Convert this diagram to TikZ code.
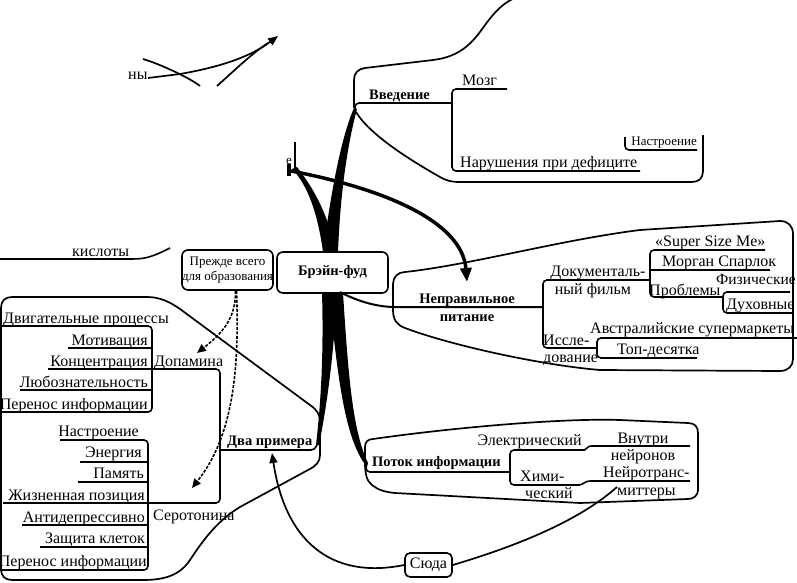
\documentclass[tikz,border=0pt]{standalone}
\usepackage{fontspec}
\setmainfont{Liberation Serif}
\usetikzlibrary{arrows.meta}
\begin{document}
\begin{tikzpicture}[x=1pt,y=-1pt,
  t/.style={inner sep=0pt,font=\fontsize{16}{18}\selectfont},
  ts/.style={inner sep=0pt,font=\fontsize{13}{15}\selectfont},
  tb/.style={inner sep=0pt,font=\bfseries\fontsize{14.5}{18}\selectfont},
  br/.style={line width=1.6pt,rounded corners=4pt},
  bd/.style={line width=1.7pt},
  rel/.style={line width=1.7pt},
  box/.style={draw,line width=1.6pt,rounded corners=6pt},
  dsh/.style={line width=1.6pt,dash pattern=on 3pt off 1.5pt,-{Triangle[length=9pt,width=8pt]}}
]
\useasboundingbox (0,0) rectangle (797,583);

% ---------- central nodes
\node[box,minimum width=111pt,minimum height=41pt,font=\bfseries\fontsize{14.5}{17}\selectfont] (bf) at (332.5,272.5) {Брэйн-фуд};
\node[box,minimum width=91pt,minimum height=40pt,align=center,inner sep=0pt,font=\fontsize{13}{15.5}\selectfont] (pv) at (227.5,270) {Прежде всего\\для образования};

% ---------- thick tapered branches
\fill (323,252) .. controls (330,200) and (340,140) .. (354,108) -- (357,109) .. controls (346,150) and (340,200) .. (338,252) -- cycle;
\fill (323,252) .. controls (318,215) and (308,185) .. (292,169) -- (297,167) .. controls (315,190) and (328,215) .. (336,252) -- cycle;
\fill (322,293) .. controls (324,360) and (320,410) .. (316,445) -- (319,445) .. controls (328,400) and (334,350) .. (337,293) -- cycle;
\fill (329,293) .. controls (338,380) and (345,440) .. (367,467) -- (368,463) .. controls (352,430) and (348,370) .. (343,293) -- cycle;

% ---------- Введение
\node[tb,anchor=base west] (vv) at (369,100) {Введение};
\node[t,anchor=base west] (mozg) at (462,86) {Мозг};
\node[t,anchor=base west] (nar) at (460,167) {Нарушения при дефиците};
\node[ts,anchor=base east] (nas1) at (697,146) {Настроение};
\draw[br] (355,109) -- (355,103) -- (452,103);
\draw[br] (507,89) -- (452,89) -- (452,171) -- (640,171);
\draw[br] (625,137) -- (625,150) -- (697,150);
\draw[bd] (354,108) -- (354,80) .. controls (354,73) and (358,69) .. (365,68) -- (433,60) .. controls (458,57) and (470,45) .. (480,32) .. controls (490,18) and (500,4) .. (515,-2);
\draw[bd] (356,112) .. controls (370,135) and (410,160) .. (440,177) .. controls (447,181) and (452,182) .. (460,182) -- (692,182) .. controls (699,182) and (703,178) .. (703,171) -- (703,135);

% ---------- "е" fragment
\node[ts,anchor=base west] (e) at (286,164) {е};
\fill (286.5,164) rectangle (290.5,176);
\draw[line width=1.2pt] (295,142) -- (295,168);
\coordinate (eout) at (291,171);

% ---------- Неправильное питание
\node[tb,align=center] (np) at (467,308) {Неправильное\\питание};
\draw[rel,line width=3.5pt,-{Triangle[length=14pt,width=11pt]}] (eout) .. controls (380,188) and (462,220) .. (467,282);
\draw[line width=2pt] (340,292) .. controls (355,300) and (375,307) .. (395,307) -- (543,307);
\node[t,anchor=base] (doc1) at (598,276) {Документаль-};
\node[t,anchor=base] (doc2) at (593,294) {ный фильм};
\node[t,anchor=base west] (ssm) at (655,246) {«Super Size Me»};
\node[t,anchor=base west] (msp) at (662,266) {Морган Спарлок};
\node[t,anchor=base west] (prob) at (649,295) {Проблемы};
\node[inner sep=0pt,font=\fontsize{15.5}{18}\selectfont,anchor=base east] (fiz) at (796,284) {Физические};
\node[t,anchor=base west] (duh) at (726,309) {Духовные};
\node[t,anchor=base west] (iss1) at (543,345) {Иссле-};
\node[t,anchor=base west] (iss2) at (543,362) {дование};
\node[t,anchor=base west] (avs) at (590,333) {Австралийские супермаркеты};
\node[t,anchor=base west] (top) at (617,354) {Топ-десятка};
\draw[br] (650,280) -- (543,280) -- (543,348) -- (597,348);
\draw[br] (765,250) -- (650,250) -- (650,297) -- (723,297);
\draw[br] (650,270) -- (770,270);
\draw[br] (790,292) -- (723,292) -- (723,313) -- (793,313);
\draw[br] (797,338) -- (597,338) -- (597,358) -- (697,358);
\draw[bd] (393,310) -- (393,284) .. controls (393,277) and (398,272) .. (405,272) .. controls (470,265) and (560,240) .. (640,230) -- (780,221) .. controls (788,221) and (793,226) .. (793,234) -- (793,359) .. controls (793,366) and (788,371) .. (780,371) -- (600,370) .. controls (540,365) and (450,345) .. (405,328) .. controls (397,325) and (393,320) .. (393,310);

% ---------- Поток информации
\node[tb,anchor=base west] (pot) at (372,466) {Поток информации};
\node[t,anchor=base east] (el) at (582,445) {Электрический};
\node[t,anchor=base] (vn1) at (643,443) {Внутри};
\node[t,anchor=base] (vn2) at (643,460) {нейронов};
\node[t,anchor=base west] (him1) at (520,481) {Хими-};
\node[t,anchor=base west] (him2) at (525,498) {ческий};
\node[t,anchor=base west] (nt1) at (603,477) {Нейротранс-};
\node[t,anchor=base west] (nt2) at (617,495) {миттеры};
\draw[br] (366,465) -- (366,472) -- (510,472);
\draw[br] (585,450) -- (510,450) -- (510,485) -- (580,485);
\draw[line width=1.6pt] (583,450) .. controls (587,450) and (587,446) .. (591,446) -- (690,446);
\draw[line width=1.6pt] (578,485) .. controls (584,485) and (584,481) .. (590,481) -- (690,481);
\draw[bd] (365,462) -- (365,447) .. controls (365,442) and (368,439) .. (373,439) .. controls (450,428) and (560,418) .. (620,420) -- (688,423) .. controls (695,423) and (698,427) .. (698,433) -- (698,490) .. controls (698,495) and (694,499) .. (688,499) -- (580,503) -- (395,493) .. controls (385,492) and (378,490) .. (372,485) .. controls (367,481) and (365,475) .. (365,462);
\coordinate (ntin) at (617,487);

% ---------- Сюда
\node[box,rounded corners=5pt,minimum width=47pt,minimum height=24pt,inner sep=0pt,font=\fontsize{16}{18}\selectfont] (suda) at (428.5,565) {Сюда};

% ---------- Два примера
\node[tb,anchor=base west] (dp) at (227,445) {Два примера};
\draw[rel,-{Triangle[length=10pt,width=8pt]}] (suda.west) .. controls (330,580) and (285,540) .. (272,453);
\draw[rel] (suda.east) .. controls (520,545) and (580,520) .. (ntin);
\node[t,anchor=base west] (dop) at (154,366) {Допамина};
\node[t,anchor=base west] (ser) at (153,520) {Серотонина};
\draw[br] (148,369) -- (220,369) -- (220,503) -- (148,503);
\draw[br] (220,450) -- (315,450) -- (318,442);

\node[t,anchor=base west] (d1) at (3,323) {Двигательные процессы};
\node[t,anchor=base east] (d2) at (148,345) {Мотивация};
\node[t,anchor=base east] (d3) at (148,366) {Концентрация};
\node[t,anchor=base east] (d4) at (148,387) {Любознательность};
\node[t,anchor=base east] (d5) at (148,409) {Перенос информации};
\draw[br] (2,326) -- (152,326) -- (152,412) -- (0,412);
\draw[br] (68,348) -- (152,348);
\draw[br] (48,369) -- (152,369);
\draw[br] (20,390) -- (152,390);

\node[t,anchor=base east] (s1) at (139,436) {Настроение};
\node[t,anchor=base east] (s2) at (142,457) {Энергия};
\node[t,anchor=base east] (s3) at (144,478) {Память};
\node[t,anchor=base east] (s4) at (145,500) {Жизненная позиция};
\node[t,anchor=base east] (s5) at (145,522) {Антидепрессивно};
\node[t,anchor=base east] (s6) at (145,543) {Защита клеток};
\node[t,anchor=base east] (s7) at (147,566) {Перенос информации};
\draw[br] (60,440) -- (148,440) -- (148,570) -- (0,570);
\draw[br] (80,462) -- (148,462);
\draw[br] (78,482) -- (148,482);
\draw[br] (3,503) -- (148,503);
\draw[br] (22,525) -- (148,525);
\draw[br] (40,547) -- (148,547);

\draw[bd] (12,297) -- (147,297) .. controls (160,297) and (170,302) .. (180,309) -- (310,405) .. controls (317,410) and (320,414) .. (320,422) -- (320,455) .. controls (320,462) and (316,466) .. (308,470) -- (240,507) .. controls (215,522) and (200,545) .. (190,560) .. controls (180,575) and (165,580) .. (143,580) -- (12,580) .. controls (5,580) and (1,576) .. (1,569) -- (1,308) .. controls (1,301) and (5,297) .. (12,297);

% dashed arrows from "Прежде всего"
\draw[dsh] (pv.south) ++(8,0) .. controls (236,320) and (220,335) .. (197,353);
\draw[dsh] (pv.south) ++(9,0) .. controls (240,380) and (230,440) .. (192,488);

% ---------- fragments top-left
\node[t,anchor=base west] (kis) at (72,256) {кислоты};
\draw[br] (0,259) -- (135,259) .. controls (150,258) and (160,253) .. (170,248);
\node[t,anchor=base west] (ny) at (128,80) {ны};
\coordinate (nyout) at (148,78);
\coordinate (ytip) at (278,36);
\draw[rel,-{Triangle[length=10pt,width=8pt]}] (nyout) -- (180,74) .. controls (220,67) and (250,57) .. (ytip);
\draw[rel] (217,86) .. controls (235,70) and (250,55) .. (268,43);
\draw[rel] (143,59) .. controls (160,64) and (190,78) .. (200,86);
\end{tikzpicture}
\end{document}
